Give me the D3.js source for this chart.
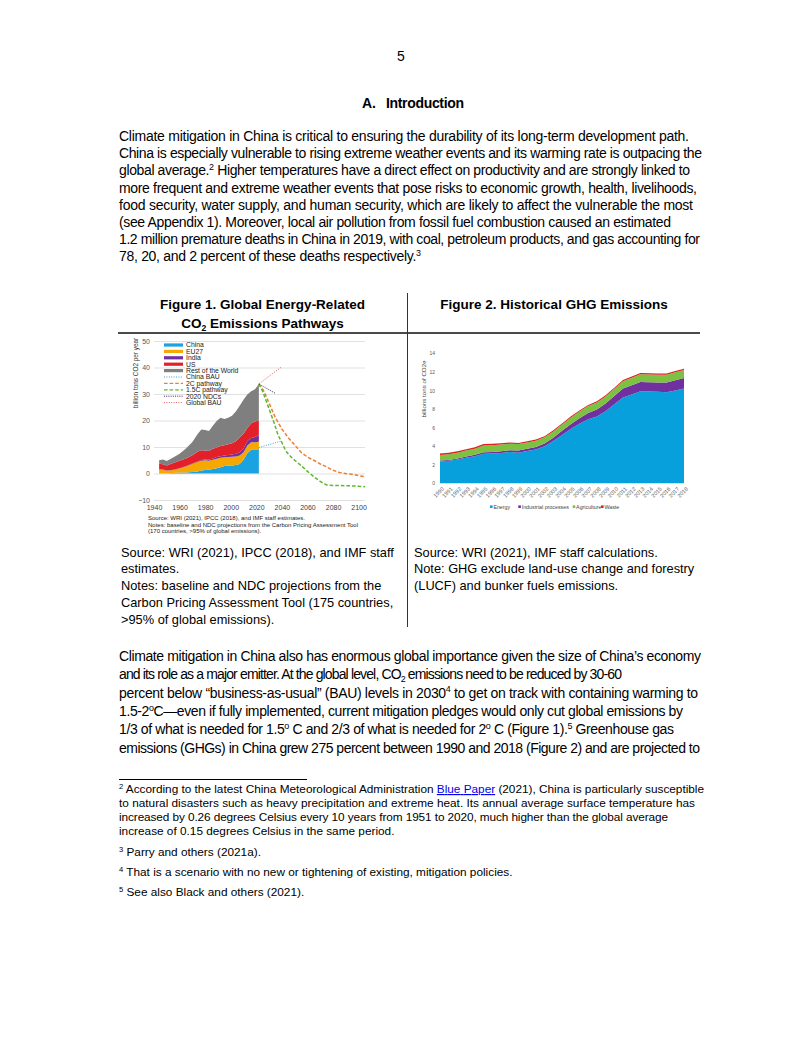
<!DOCTYPE html>
<html><head><meta charset="utf-8">
<script src="https://cdn.jsdelivr.net/npm/d3@7"></script>
<style>
body{margin:0;background:#fff}
svg{display:block;font-family:"Liberation Sans",Arial,sans-serif}
text{white-space:pre}
</style>
</head><body>
<svg id="page" width="802" height="1037"></svg>
<script>
// ---------------- DATA ----------------
// Figure 1: Global energy-related CO2 emissions (billion tons CO2 per year)
const fig1Years = [1944,1947,1950,1955,1960,1965,1970,1974,1977,1980,1983,1986,1989,1992,1995,1998,2001,2004,2007,2010,2013,2016,2019,2022];
const fig1China = [0.1,0.1,0.1,0.2,0.4,0.4,0.6,0.8,1.1,1.3,1.4,1.7,2.0,2.4,2.8,2.9,3.0,3.2,3.6,5.2,7.6,9.0,8.9,9.2];
const fig1EU27  = [1.4,1.3,0.9,1.1,1.5,2.2,3.0,3.5,3.7,3.7,3.4,3.5,3.6,3.5,3.3,3.3,3.3,3.2,3.2,2.8,3.0,2.8,2.9,2.8];
const fig1India = [0.1,0.1,0.1,0.1,0.1,0.2,0.2,0.2,0.3,0.3,0.4,0.5,0.6,0.6,0.7,0.8,0.9,1.1,1.2,1.4,1.7,1.6,2.0,2.5];
const fig1US    = [2.1,2.0,1.9,2.6,2.8,2.9,3.1,3.7,3.7,3.4,3.3,3.6,3.6,3.9,3.9,4.0,4.2,4.7,5.6,5.6,4.9,5.6,5.8,5.5];
const fig1RoW   = [1.3,1.8,1.7,2.0,2.7,3.7,5.0,6.6,7.8,7.7,7.5,8.7,10.0,10.6,9.9,10.0,10.4,11.2,12.0,12.8,12.6,12.0,12.2,13.8];
const fig1AreaKeys = ["China","EU27","India","US","Rest of the World"];

const chinaBAUYears = [2022,2040];           const chinaBAU = [9.8,12.3];
const globalBAUYears = [2022,2040];          const globalBAU = [33.8,40.3];
const ndc2020Years = [2022,2035];            const ndc2020 = [33.8,30.2];
const path2CYears = [2022,2026,2030,2035,2040,2045,2050,2055,2060,2065,2070,2075,2080,2085,2090,2095,2100,2105];
const path2C      = [33.8,31,26.5,21,16.8,13.5,10.8,8,6.2,5,3.6,2.5,1.2,0.4,0,-0.3,-0.8,-1.2];
const path15CYears = [2022,2025,2028,2031,2034,2037,2040,2043,2046,2050,2055,2060,2065,2070,2075,2080,2090,2100,2105];
const path15C      = [33.8,31,27,23,19,14.5,11.7,8.5,6.8,5,3,0.8,-1.2,-3,-4.3,-4.5,-4.6,-4.8,-5];

const fig1YTicks = [-10,0,10,20,30,40,50];
const fig1XTicks = [1940,1960,1980,2000,2020,2040,2060,2080,2100];
const fig1Legend = ["China","EU27","India","US","Rest of the World","China BAU","2C pathway","1.5C pathway","2020 NDCs","Global BAU"];

// Figure 2: China historical GHG emissions (billions tons of CO2e)
const fig2Years = [1990,1991,1992,1993,1994,1995,1996,1997,1998,1999,2000,2001,2002,2003,2004,2005,2006,2007,2008,2009,2010,2011,2012,2013,2014,2015,2016,2017,2018];
const fig2Energy     = [2.35,2.42,2.55,2.75,2.92,3.18,3.20,3.27,3.36,3.30,3.48,3.65,3.98,4.55,5.20,5.85,6.40,6.90,7.20,7.75,8.50,9.25,9.55,9.90,9.88,9.85,9.80,10.00,10.20];
const fig2Industrial = [0.10,0.10,0.12,0.13,0.15,0.17,0.18,0.19,0.20,0.22,0.24,0.26,0.30,0.36,0.45,0.52,0.60,0.68,0.75,0.85,0.90,0.95,1.00,1.00,1.00,1.00,1.05,1.10,1.15];
const fig2Agriculture= [0.60,0.62,0.62,0.65,0.65,0.72,0.72,0.72,0.70,0.70,0.68,0.68,0.67,0.67,0.68,0.70,0.72,0.74,0.76,0.76,0.78,0.80,0.82,0.84,0.84,0.84,0.84,0.86,0.85];
const fig2Waste      = [0.15,0.15,0.15,0.15,0.15,0.15,0.15,0.14,0.14,0.13,0.13,0.13,0.12,0.12,0.12,0.12,0.12,0.12,0.12,0.12,0.12,0.13,0.13,0.13,0.13,0.13,0.13,0.13,0.14];
const fig2Keys = ["Energy","Industrial processes","Agriculture","Waste"];
const fig2YTicks = [0,2,4,6,8,10,12,14];

// Page text
const pageNumber = "5";
const headingLetter = "A.";
const headingText = "Introduction";
const para1Lines = [
 "Climate mitigation in China is critical to ensuring the durability of its long-term development path.",
 "China is especially vulnerable to rising extreme weather events and its warming rate is outpacing the",
 "global average.^2^ Higher temperatures have a direct effect on productivity and are strongly linked to",
 "more frequent and extreme weather events that pose risks to economic growth, health, livelihoods,",
 "food security, water supply, and human security, which are likely to affect the vulnerable the most",
 "(see Appendix 1). Moreover, local air pollution from fossil fuel combustion caused an estimated",
 "1.2 million premature deaths in China in 2019, with coal, petroleum products, and gas accounting for",
 "78, 20, and 2 percent of these deaths respectively.^3^"
];
const para1Ends = [689,702,690,697,693,671,700,421];
const para2Lines = [
 "Climate mitigation in China also has enormous global importance given the size of China\u2019s economy",
 "and its role as a major emitter. At the global level, CO_2_ emissions need to be reduced by 30-60",
 "percent below \u201cbusiness-as-usual\u201d (BAU) levels in 2030^4^ to get on track with containing warming to",
 "1.5-2^o^C\u2014even if fully implemented, current mitigation pledges would only cut global emissions by",
 "1/3 of what is needed for 1.5^o^ C and 2/3 of what is needed for 2^o^ C (Figure 1).^5^ Greenhouse gas",
 "emissions (GHGs) in China grew 275 percent between 1990 and 2018 (Figure 2) and are projected to"
];
const para2Ends = [701,622,698,683,674,700];
const footnoteLines = [
 ["^2^ According to the latest China Meteorological Administration {Blue Paper} (2021), China is particularly susceptible", 704],
 ["to natural disasters such as heavy precipitation and extreme heat. Its annual average surface temperature has", 695],
 ["increased by 0.26 degrees Celsius every 10 years from 1951 to 2020, much higher than the global average", 668],
 ["increase of 0.15 degrees Celsius in the same period.", null],
 ["^3^ Parry and others (2021a).", null],
 ["^4^ That is a scenario with no new or tightening of existing, mitigation policies.", null],
 ["^5^ See also Black and others (2021).", null]
];
const fig1TitleLines = ["Figure 1. Global Energy-Related","CO_2_ Emissions Pathways"];
const fig2Title = "Figure 2. Historical GHG Emissions";
const fig1Notes = [
 "Source: WRI (2021), IPCC (2018), and IMF staff",
 "estimates.",
 "Notes: baseline and NDC projections from the",
 "Carbon Pricing Assessment Tool (175 countries,",
 ">95% of global emissions)."
];
const fig2Notes = [
 "Source: WRI (2021), IMF staff calculations.",
 "Note: GHG exclude land-use change and forestry",
 "(LUCF) and bunker fuels emissions."
];
const fig1InnerNotes = [
 "Source: WRI (2021), IPCC (2018), and IMF staff estimates.",
 "Notes: baseline and NDC projections from the Carbon Pricing Assessment Tool",
 "(170 countries, >95% of global emissions)."
];

// ---------------- DRAW ----------------
const svg = d3.select("#page");
svg.append("rect").attr("width",802).attr("height",1037).attr("fill","#fff");

function richText(parent, x, y, str, size, endX, opts={}) {
  const t = parent.append("text").attr("x",x).attr("y",y).attr("font-size",size)
    .attr("fill", opts.fill || "#000");
  if (opts.weight) t.attr("font-weight", opts.weight);
  if (opts.anchor) t.attr("text-anchor", opts.anchor);
  const parts = str.split(/(\^[^^]*\^|_[^_]*_|\{[^}]*\})/).filter(s=>s.length);
  let shift = 0;
  parts.forEach(p=>{
    let cls="n", txt=p;
    if (p[0]==="^" && p.length>1 && p.endsWith("^")) {cls="sup"; txt=p.slice(1,-1);}
    else if (p[0]==="_" && p.length>1 && p.endsWith("_")) {cls="sub"; txt=p.slice(1,-1);}
    else if (p[0]==="{") {cls="link"; txt=p.slice(1,-1);}
    const ts = t.append("tspan").text(txt);
    const target = cls==="sup" ? -size*0.38 : cls==="sub" ? size*0.22 : 0;
    if (target!==shift) { ts.attr("dy", (target-shift).toFixed(2)); shift = target; }
    if (cls==="sup"||cls==="sub") ts.attr("font-size", (size*0.64).toFixed(2));
    if (cls==="link") ts.attr("fill","#0000ee").attr("text-decoration","underline");
  });
  if (endX) t.attr("textLength", endX-x).attr("lengthAdjust","spacing");
  return t;
}

// page number and heading
svg.append("text").attr("x",401).attr("y",61).attr("text-anchor","middle").attr("font-size",14).text(pageNumber);
svg.append("text").attr("x",362).attr("y",108).attr("font-size",14).attr("font-weight","bold").text(headingLetter);
svg.append("text").attr("x",386).attr("y",108).attr("font-size",14).attr("font-weight","bold")
   .attr("textLength",78).attr("lengthAdjust","spacing").text(headingText);

// paragraph 1
para1Lines.forEach((l,i)=> richText(svg,119,141+i*17.2,l,14,para1Ends[i]));
// paragraph 2
para2Lines.forEach((l,i)=> richText(svg,119,661+i*18.3,l,14,para2Ends[i]));

// footnotes
svg.append("line").attr("x1",119).attr("x2",307).attr("y1",779.5).attr("y2",779.5).attr("stroke","#000").attr("stroke-width",1);
const fnY = [793,807,821,835,856,876,896];
footnoteLines.forEach((f,i)=> richText(svg,119,fnY[i],f[0],11.8,f[1]));

// figure frame
svg.append("line").attr("x1",118).attr("x2",700).attr("y1",333).attr("y2",333).attr("stroke","#4a4a4a").attr("stroke-width",1.8);
svg.append("line").attr("x1",407.5).attr("x2",407.5).attr("y1",293).attr("y2",627).attr("stroke","#333").attr("stroke-width",1);

// titles
richText(svg,262.5,308.5,fig1TitleLines[0],13.5,null,{weight:"bold",anchor:"middle"});
richText(svg,262.5,328,fig1TitleLines[1],13.5,null,{weight:"bold",anchor:"middle"});
richText(svg,554,308.5,fig2Title,13.5,null,{weight:"bold",anchor:"middle"});

// notes below figures
fig1Notes.forEach((n,i)=> richText(svg,121,556.5+i*16.8,n,12.8,null));
fig2Notes.forEach((n,i)=> richText(svg,414,556.5+i*16.8,n,12.8,null));

// ---------- Figure 1 chart ----------
const f1 = svg.append("g");
const x1 = d3.scaleLinear().domain([1940,2105]).range([154,365]);
const y1 = d3.scaleLinear().domain([-10,50]).range([500,341]);
const col1 = {"China":"#1aa3e0","EU27":"#f6a800","India":"#7030a0","US":"#e3202a","Rest of the World":"#7f7f7f"};

const yAx1 = f1.append("g").attr("transform","translate(154,0)")
  .call(d3.axisLeft(y1).tickValues(fig1YTicks).tickSize(-211).tickPadding(4));
yAx1.select(".domain").remove();
yAx1.selectAll("line").attr("stroke","#d9d9d9").attr("stroke-width",0.8);
yAx1.selectAll("text").attr("font-size",7).attr("fill","#595959").attr("font-family","Liberation Sans, Arial, sans-serif");

const xAx1 = f1.append("g").attr("transform","translate(0,500)")
  .call(d3.axisBottom(x1).tickValues(fig1XTicks).tickFormat(d3.format("d")).tickSize(0).tickPadding(5));
xAx1.select(".domain").remove();
xAx1.selectAll("text").attr("font-size",7).attr("fill","#404040").attr("font-family","Liberation Sans, Arial, sans-serif");

const rows1 = fig1Years.map((yr,i)=>({year:yr,"China":fig1China[i],"EU27":fig1EU27[i],"India":fig1India[i],"US":fig1US[i],"Rest of the World":fig1RoW[i]}));
const stack1 = d3.stack().keys(fig1AreaKeys)(rows1);
const area1 = d3.area().x(d=>x1(d.data.year)).y0(d=>y1(d[0])).y1(d=>y1(d[1]));
f1.selectAll("path.a").data(stack1).join("path").attr("class","a")
  .attr("d",area1).attr("fill",d=>col1[d.key]);

const line1 = d3.line().x(d=>x1(d[0])).y(d=>y1(d[1]));
const projections = [
  {name:"China BAU",   yrs:chinaBAUYears, vals:chinaBAU,  color:"#3a9de0", dash:"1,1.4", w:1},
  {name:"2C pathway",  yrs:path2CYears,   vals:path2C,    color:"#ed7d31", dash:"3.6,2", w:1.5},
  {name:"1.5C pathway",yrs:path15CYears,  vals:path15C,   color:"#5fb82b", dash:"3.6,2", w:1.5},
  {name:"2020 NDCs",   yrs:ndc2020Years,  vals:ndc2020,   color:"#4b1f5e", dash:"1,1.2", w:1},
  {name:"Global BAU",  yrs:globalBAUYears,vals:globalBAU, color:"#e06060", dash:"1,1.4", w:1}
];
projections.forEach(p=>{
  f1.append("path").attr("d", line1(p.yrs.map((y,i)=>[y,p.vals[i]])))
    .attr("fill","none").attr("stroke",p.color).attr("stroke-width",p.w).attr("stroke-dasharray",p.dash);
});

// legend
const leg1 = f1.append("g");
fig1Legend.forEach((name,i)=>{
  const cy = 345 + i*6.4;
  if (col1[name]) {
    leg1.append("rect").attr("x",164).attr("y",cy-1.6).attr("width",19).attr("height",3.2).attr("fill",col1[name]);
  } else {
    const p = projections.find(q=>q.name===name);
    leg1.append("line").attr("x1",164).attr("x2",183).attr("y1",cy).attr("y2",cy)
      .attr("stroke",p.color).attr("stroke-width",Math.min(p.w,1.2)).attr("stroke-dasharray",p.dash);
  }
  leg1.append("text").attr("x",186).attr("y",cy+2.3).attr("font-size",6.8).attr("fill","#222").text(name);
});

// y axis title
f1.append("text").attr("transform","translate(138,373) rotate(-90)").attr("text-anchor","middle")
  .attr("font-size",6.4).attr("fill","#333").text("billion tons CO2 per year");

// inner notes
fig1InnerNotes.forEach((n,i)=>{
  f1.append("text").attr("x",148).attr("y",520+i*6.5).attr("font-size",6).attr("fill","#222").text(n);
});

// ---------- Figure 2 chart ----------
const f2 = svg.append("g");
const x2 = d3.scaleLinear().domain([1990,2018]).range([440,684]);
const y2 = d3.scaleLinear().domain([0,14]).range([483.3,353.3]);
const col2 = {"Energy":"#07a0dd","Industrial processes":"#7030a0","Agriculture":"#7cc142","Waste":"#e02020"};
const rows2 = fig2Years.map((yr,i)=>({year:yr,"Energy":fig2Energy[i],"Industrial processes":fig2Industrial[i],"Agriculture":fig2Agriculture[i],"Waste":fig2Waste[i]}));
const stack2 = d3.stack().keys(fig2Keys)(rows2);
const area2 = d3.area().x(d=>x2(d.data.year)).y0(d=>y2(d[0])).y1(d=>y2(d[1]));
f2.selectAll("path.a").data(stack2).join("path").attr("class","a").attr("d",area2).attr("fill",d=>col2[d.key]);

const yAx2 = f2.append("g").attr("transform","translate(439,0)")
  .call(d3.axisLeft(y2).tickValues(fig2YTicks).tickSize(0).tickPadding(4));
yAx2.select(".domain").remove();
yAx2.selectAll("text").attr("font-size",5).attr("fill","#595959").attr("font-family","Liberation Sans, Arial, sans-serif");

const xAx2 = f2.append("g").attr("transform","translate(0,484)")
  .call(d3.axisBottom(x2).tickValues(fig2Years).tickFormat(d3.format("d")).tickSize(0));
xAx2.select(".domain").remove();
xAx2.selectAll("text").attr("x",0).attr("y",0).attr("dy","0.35em")
  .attr("transform","translate(2.5,4) rotate(-45)").attr("text-anchor","end")
  .attr("font-size",5.5).attr("fill","#595959").attr("font-family","Liberation Sans, Arial, sans-serif");

f2.append("text").attr("transform","translate(426,389) rotate(-90)").attr("text-anchor","middle")
  .attr("font-size",6.2).attr("fill","#444").text("billions tons of CO2e");

const leg2X = [490,518.3,572.7,601];
fig2Keys.forEach((k,i)=>{
  f2.append("rect").attr("x",leg2X[i]).attr("y",505.4).attr("width",2.6).attr("height",2.6).attr("fill",col2[k]);
  f2.append("text").attr("x",leg2X[i]+3.4).attr("y",508.6).attr("font-size",5.3).attr("fill","#444").text(k);
});
</script>
</body></html>
